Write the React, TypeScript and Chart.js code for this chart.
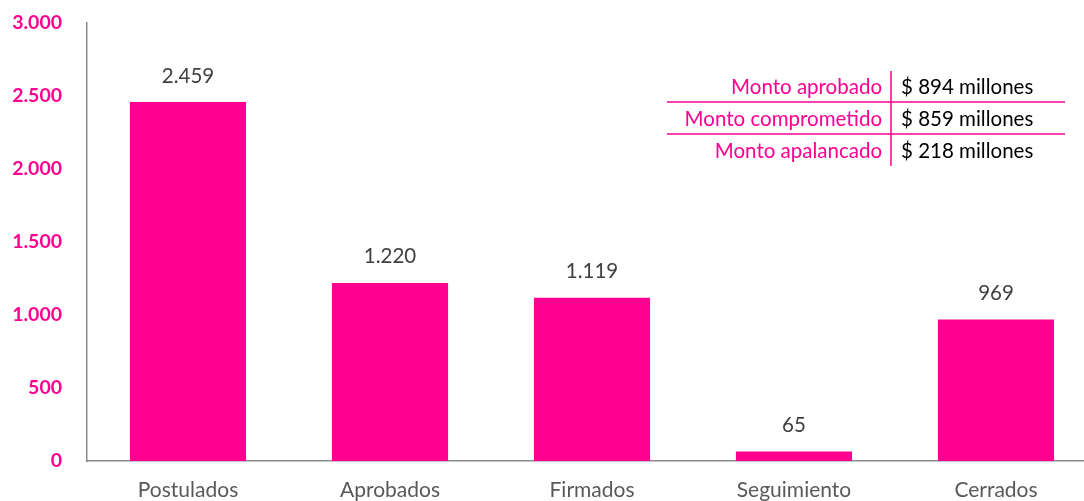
import React, { useEffect, useRef } from "react";
import { Chart, registerables } from "chart.js";

Chart.register(...registerables);

const categories = ["Postulados", "Aprobados", "Firmados", "Seguimiento", "Cerrados"];
const values = [2459, 1220, 1119, 65, 969];
const tableLabels = ["Monto aprobado", "Monto comprometido", "Monto apalancado"];
const tableValues = ["$ 894 millones", "$ 859 millones", "$ 218 millones"];

const PINK = "#FF0090";
const FONT = "Lato, 'Open Sans', sans-serif";

const fmt = (n: number) => n.toString().replace(/\B(?=(\d{3})+(?!\d))/g, ".");

const labelPlugin = {
  id: "valueLabels",
  afterDatasetsDraw(chart: any) {
    const ctx = chart.ctx;
    const meta = chart.getDatasetMeta(0);
    ctx.save();
    ctx.font = `20.5px ${FONT}`;
    ctx.fillStyle = "#404040";
    ctx.textAlign = "center";
    ctx.textBaseline = "middle";
    meta.data.forEach((bar: any, i: number) => {
      ctx.fillText(fmt(values[i]), bar.x, bar.y - 26);
    });
    ctx.restore();
  },
};

const tablePlugin = {
  id: "montoTable",
  afterDraw(chart: any) {
    const ctx = chart.ctx;
    ctx.save();
    const divX = 891;
    const rowYs = [87, 119, 151];
    ctx.strokeStyle = PINK;
    ctx.lineWidth = 1.5;
    ctx.beginPath();
    ctx.moveTo(divX, 71);
    ctx.lineTo(divX, 166);
    ctx.moveTo(667, 102);
    ctx.lineTo(1065, 102);
    ctx.moveTo(667, 134);
    ctx.lineTo(1065, 134);
    ctx.stroke();
    ctx.font = `20.5px ${FONT}`;
    ctx.textBaseline = "middle";
    tableLabels.forEach((t, i) => {
      ctx.fillStyle = PINK;
      ctx.textAlign = "right";
      ctx.fillText(t, 882, rowYs[i]);
      ctx.fillStyle = "#000000";
      ctx.textAlign = "left";
      ctx.fillText(tableValues[i], 901, rowYs[i]);
    });
    ctx.restore();
  },
};

export default function App() {
  const ref = useRef<HTMLCanvasElement>(null);
  useEffect(() => {
    if (!ref.current) return;
    const chart = new Chart(ref.current, {
      type: "bar",
      data: {
        labels: categories,
        datasets: [
          {
            data: values,
            backgroundColor: PINK,
            categoryPercentage: 1,
            barPercentage: 0.575,
          },
        ],
      },
      options: {
        animation: false,
        responsive: false,
        maintainAspectRatio: false,
        layout: { padding: { top: 23, right: 0, left: 0, bottom: 0 } },
        plugins: { legend: { display: false }, tooltip: { enabled: false } },
        scales: {
          x: {
            grid: { display: false, drawTicks: false },
            border: { display: true, color: "#8C8C8C", width: 1.5 },
            ticks: { color: "#595959", font: { family: FONT, size: 21 }, padding: 17 },
            afterFit: (s: any) => {
              s.height = 40;
              s.paddingLeft = 0;
              s.paddingRight = 0;
            },
          },
          y: {
            min: 0,
            max: 3000,
            grid: { display: false, drawTicks: false },
            border: { display: true, color: "#8C8C8C", width: 1.5 },
            ticks: {
              stepSize: 500,
              color: PINK,
              font: { family: FONT, size: 19.5, weight: "bold" },
              padding: 25,
              callback: (v: any) => fmt(Number(v)),
            },
            afterFit: (s: any) => {
              s.width = 87;
              s.paddingTop = 0;
              s.paddingBottom = 0;
            },
          },
        },
      },
      plugins: [labelPlugin, tablePlugin],
    });
    return () => chart.destroy();
  }, []);
  return (
    <div
      style={{
        position: "absolute",
        left: 0,
        top: 0,
        width: 1084,
        height: 501,
        overflow: "hidden",
        background: "#fff",
      }}
    >
      <canvas ref={ref} width={1097} height={501} style={{ display: "block" }} />
    </div>
  );
}
